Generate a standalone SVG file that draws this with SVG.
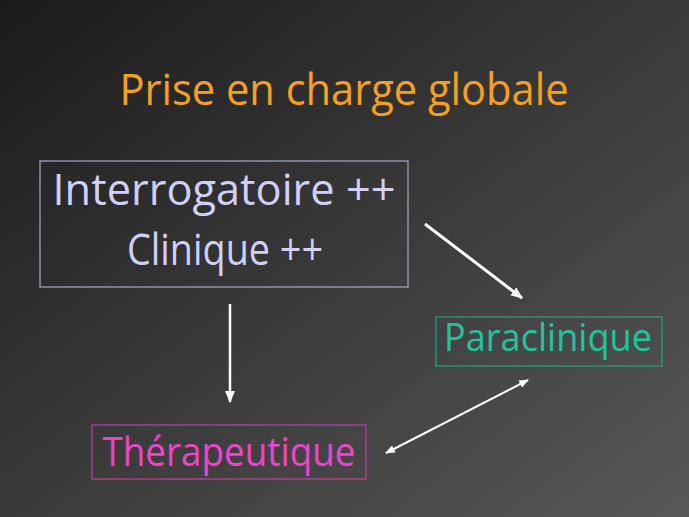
<svg xmlns="http://www.w3.org/2000/svg" width="689" height="517" viewBox="0 0 689 517">
<defs>
<linearGradient id="bg" x1="0" y1="0" x2="1" y2="1">
<stop offset="0" stop-color="#1b1b1b"/>
<stop offset="1" stop-color="#585858"/>
</linearGradient>
<marker id="ah" viewBox="0 0 12 10" refX="11" refY="5" markerWidth="12" markerHeight="10" markerUnits="userSpaceOnUse" orient="auto-start-reverse">
<path d="M0,0 L12,5 L0,10 z" fill="#ffffff"/>
</marker>
<marker id="ahs" viewBox="0 0 12 10" refX="11" refY="5" markerWidth="10" markerHeight="8" markerUnits="userSpaceOnUse" orient="auto-start-reverse">
<path d="M0,0 L12,5 L0,10 z" fill="#ffffff"/>
</marker>
</defs>
<style>
text { font-family: "Comic Sans MS", "Open Sans", "DejaVu Sans", sans-serif; text-anchor: middle; }
.box { fill: none; stroke-width: 1.2; }
.conn { stroke: #ffffff; fill: none; }
</style>
<rect x="0" y="0" width="689" height="517" fill="url(#bg)"/>
<g id="title">
<text x="344" y="105" font-size="44" fill="#f5a020" textLength="449" lengthAdjust="spacingAndGlyphs">Prise en charge globale</text>
</g>
<g id="node-interrogatoire">
<rect class="box" x="40" y="161" width="368" height="126" stroke="#a8a8c8"/>
<text x="224" y="205" font-size="43" fill="#d0d0f8" textLength="343" lengthAdjust="spacingAndGlyphs">Interrogatoire ++</text>
<text x="225" y="265" font-size="43" fill="#d0d0f8" textLength="196" lengthAdjust="spacingAndGlyphs">Clinique ++</text>
</g>
<g id="node-paraclinique">
<rect class="box" x="436" y="317" width="226" height="49" stroke="#1fa583"/>
<text x="548" y="351" font-size="39" fill="#22c49c" textLength="208" lengthAdjust="spacingAndGlyphs">Paraclinique</text>
</g>
<g id="node-therapeutique">
<rect class="box" x="92" y="425" width="274" height="54" stroke="#c040a8"/>
<text x="229" y="466" font-size="40" fill="#ee44cc" textLength="253" lengthAdjust="spacingAndGlyphs">Thérapeutique</text>
</g>
<g id="connectors">
<line class="conn" x1="425" y1="224" x2="522" y2="298" stroke-width="3" marker-end="url(#ah)"/>
<line class="conn" x1="230" y1="304" x2="230" y2="402" stroke-width="2.5" marker-end="url(#ah)"/>
<line class="conn" x1="386" y1="453" x2="528" y2="380" stroke-width="2" marker-start="url(#ahs)" marker-end="url(#ahs)"/>
</g>
</svg>
